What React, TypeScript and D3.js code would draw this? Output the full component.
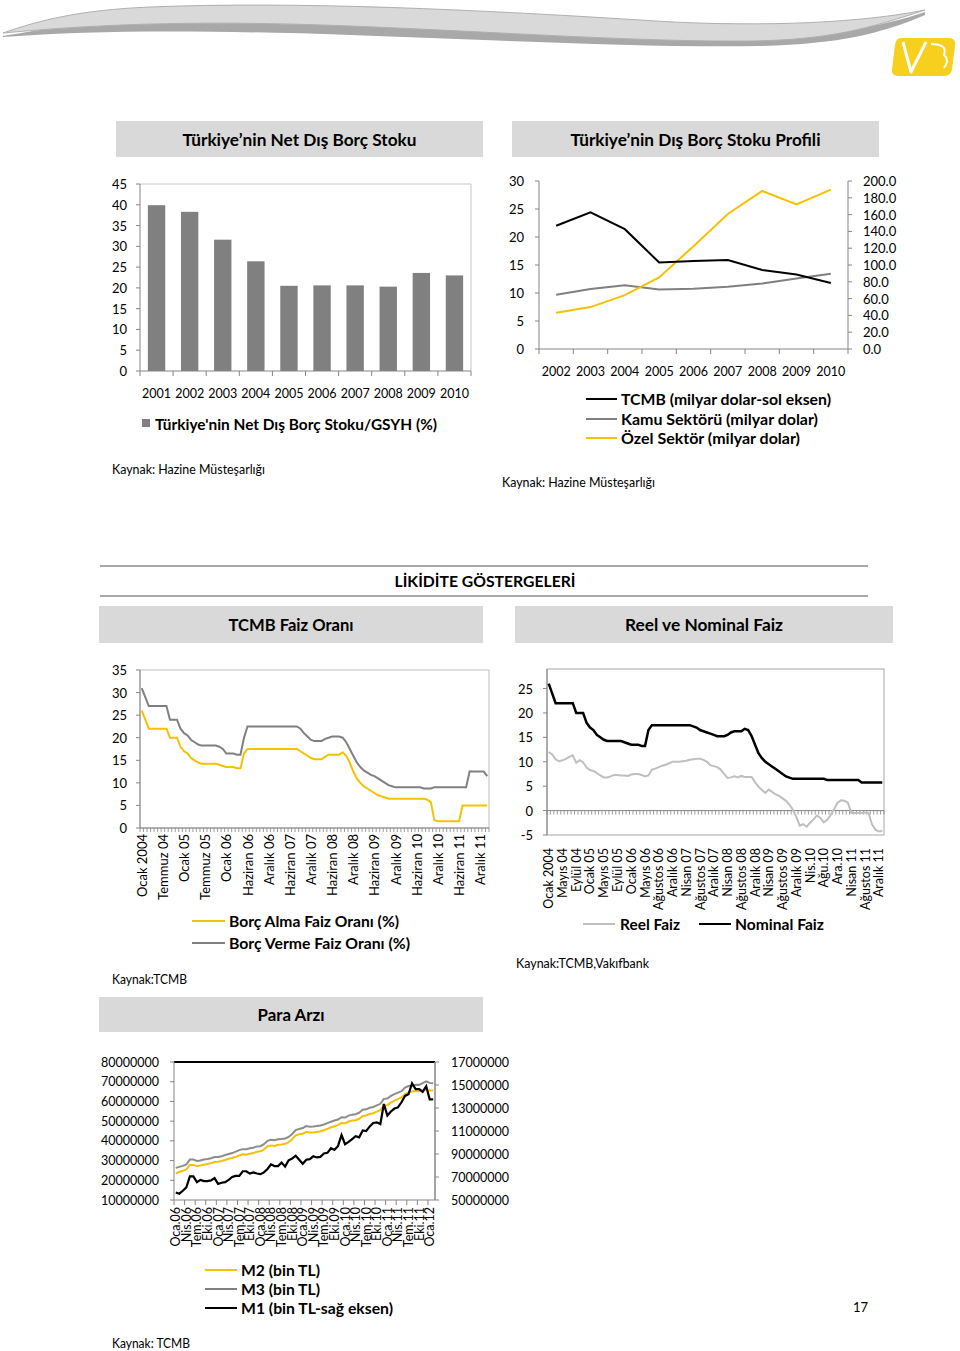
import React from "react";
import * as d3 from "d3";

const FONT = "Lato, 'Open Sans', 'DejaVu Sans', sans-serif";
const YELLOW = "#F5C100";
const GRAY = "#808080";
const LIGHT = "#BFBFBF";
const AXIS = "#868686";
const BOX = "#D9D9D9";

// ---- Chart 1: Net dış borç stoku / GSYH
const years1 = ["2001", "2002", "2003", "2004", "2005", "2006", "2007", "2008", "2009", "2010"];
const netDebtGdp = [39.9, 38.3, 31.6, 26.4, 20.5, 20.6, 20.6, 20.3, 23.6, 23.0];
const ticks1 = [0, 5, 10, 15, 20, 25, 30, 35, 40, 45];

// ---- Chart 2: Dış borç stoku profili
const years2 = ["2002", "2003", "2004", "2005", "2006", "2007", "2008", "2009", "2010"];
const tcmbDebt = [22.0, 24.4, 21.4, 15.45, 15.7, 15.9, 14.1, 13.3, 11.8];
const publicDebt = [64.5, 71.3, 76.0, 70.9, 71.7, 74.0, 78.0, 84.0, 89.5];
const privateDebt = [43.2, 49.9, 64.2, 85.2, 122.4, 160.8, 188.1, 172.0, 189.8];
const ticks2L = [0, 5, 10, 15, 20, 25, 30];
const ticks2R = [0, 20, 40, 60, 80, 100, 120, 140, 160, 180, 200];

// ---- Chart 3: TCMB faiz oranı
const faizLabels = ["Ocak 2004", "Temmuz 04", "Ocak 05", "Temmuz 05", "Ocak 06", "Haziran 06", "Aralık 06", "Haziran 07", "Aralık 07", "Haziran 08", "Aralık 08", "Haziran 09", "Aralık 09", "Haziran 10", "Aralık 10", "Haziran 11", "Aralık 11"];
const borcVerme = [
  31, 29, 27, 27, 27, 27, 27, 27,
  24, 24, 24,
  22, 21, 20.5, 19.5, 19, 18.5,
  18.25, 18.25, 18.25, 18.25, 18.25,
  18, 17.5,
  16.5, 16.5, 16.5, 16.25, 16.25,
  20,
  22.5, 22.5, 22.5, 22.5, 22.5, 22.5, 22.5, 22.5, 22.5, 22.5, 22.5, 22.5, 22.5, 22.5, 22.5,
  22, 21, 20.25, 19.5,
  19.25, 19.25, 19.25,
  19.75, 20, 20.25, 20.25, 20.25, 20, 19,
  17.5, 16, 14.5, 13.5, 12.75, 12.25, 11.75, 11.5, 11, 10.5, 10, 9.5, 9.25,
  9, 9, 9, 9, 9, 9, 9, 9,
  8.75, 8.75, 8.75,
  9, 9, 9, 9, 9, 9, 9, 9, 9, 9,
  12.5, 12.5, 12.5, 12.5, 12.5,
  11.5,
];
const borcAlma = [
  26, 24, 22, 22, 22, 22, 22, 22,
  20, 20, 20,
  18, 17, 16.5, 15.5, 15, 14.5,
  14.25, 14.25, 14.25, 14.25, 14.25,
  14, 13.75,
  13.5, 13.5, 13.5, 13.25, 13.25,
  16.5,
  17.5, 17.5, 17.5, 17.5, 17.5, 17.5, 17.5, 17.5, 17.5, 17.5, 17.5, 17.5, 17.5, 17.5, 17.5,
  17, 16.5, 16, 15.5,
  15.25, 15.25, 15.25,
  15.75, 16.25, 16.25, 16.25, 16.25, 16.75, 16,
  14.5, 12.5, 11, 10, 9.25, 8.75, 8.25, 7.75, 7.25, 7, 6.75, 6.5, 6.5,
  6.5, 6.5, 6.5, 6.5, 6.5, 6.5, 6.5, 6.5,
  6.5, 6.25, 5.75,
  1.75, 1.5, 1.5, 1.5, 1.5, 1.5, 1.5, 1.5,
  5, 5, 5, 5, 5, 5, 5, 5,
];
const ticks3 = [0, 5, 10, 15, 20, 25, 30, 35];

// ---- Chart 4: Reel ve nominal faiz
const reelLabels = ["Ocak 2004", "Mayıs 04", "Eylül 04", "Ocak 05", "Mayıs 05", "Eylül 05", "Ocak 06", "Mayıs 06", "Ağustos 06", "Aralık 06", "Nisan 07", "Ağustos 07", "Aralık 07", "Nisan 08", "Ağustos 08", "Aralık 08", "Nisan 09", "Ağustos 09", "Aralık 09", "Nis.10", "Ağu.10", "Ara.10", "Nisan 11", "Ağustos 11", "Aralık 11"];
const nominalFaiz = [
  26, 24, 22, 22, 22, 22, 22, 22,
  20, 20, 20,
  18, 17, 16.5, 15.5, 15, 14.5,
  14.25, 14.25, 14.25, 14.25, 14.25,
  14, 13.75,
  13.5, 13.5, 13.5, 13.25, 13.25,
  16.5,
  17.5, 17.5, 17.5, 17.5, 17.5, 17.5, 17.5, 17.5, 17.5, 17.5, 17.5, 17.5,
  17.25, 17, 16.5, 16.25, 16, 15.75, 15.5,
  15.25, 15.25, 15.25,
  15.5, 16,
  16.25, 16.25, 16.25,
  16.75, 16.5, 15.25, 13.5, 11.75, 10.75, 10, 9.5, 9, 8.5, 8, 7.5, 7, 6.75,
  6.5, 6.5, 6.5, 6.5, 6.5, 6.5, 6.5, 6.5, 6.5, 6.5,
  6.25, 6.25, 6.25, 6.25, 6.25, 6.25, 6.25, 6.25, 6.25, 6.25,
  5.75, 5.75, 5.75, 5.75, 5.75, 5.75, 5.75,
];
const reelFaiz = [
  12, 11.5, 10.5, 10.1, 10.3, 10.6, 11, 11.3, 9.8, 10.3,
  9.9, 8.8, 8.3, 8.1, 7.7, 7.2, 6.8, 6.8, 7, 7.3,
  7.3, 7.2, 7.2, 7.1, 7.4, 7.5, 7.5, 7.3, 7.0, 7.2,
  8.4, 8.6, 8.9, 9.2, 9.4, 9.7, 10, 10, 10, 10.1,
  10.2, 10.4, 10.5, 10.6, 10.6, 10.4, 10, 9.3, 9.1, 8.9,
  8.4, 7.5, 6.7, 6.8, 7, 6.8, 7.1, 6.9, 6.9, 6.9,
  5.8, 4.9, 4.2, 3.6, 4.3, 3.8, 3.3, 3, 2.5, 2,
  1.2, 0.2, -1.3, -3.1, -2.8, -3.3, -2.5, -1.8, -1, -1.5,
  -2.4, -1.9, -0.9, 0.3, 1.6, 2.1, 2, 1.6, -0.5, -0.5,
  -0.5, -0.5, -0.4, -0.5, -2.8, -3.9, -4.3, -4.2,
];
const ticks4 = [-5, 0, 5, 10, 15, 20, 25];

// ---- Chart 5: Para arzı (milyon bin TL)
const paraLabels = ["Oca.06", "Nis.06", "Tem.06", "Eki.06", "Oca.07", "Nis.07", "Tem.07", "Eki.07", "Oca.08", "Nis.08", "Tem.08", "Eki.08", "Oca.09", "Nis.09", "Tem.09", "Eki.09", "Oca.10", "Nis.10", "Tem.10", "Eki.10", "Oca.11", "Nis.11", "Tem.11", "Eki.11", "Oca.12"];
const m3 = [
  26.3, 26.8, 27.3, 28.0, 30.5, 30.5, 29.8, 30.0, 30.5, 30.8,
  31.2, 31.8, 31.8, 32.2, 32.8, 33.3, 33.8, 34.5, 35.3, 35.8,
  35.7, 36.2, 36.5, 37.2, 37.3, 38.3, 40.0, 40.5, 40.3, 40.8,
  41.0, 41.2, 42.0, 43.5, 45.5, 46.0, 46.5, 47.5, 47.2, 47.3,
  47.5, 47.8, 48.3, 49.0, 49.7, 50.3, 50.8, 52.0, 51.8, 52.8,
  53.3, 53.5, 54.3, 55.8, 56.0, 56.8, 57.2, 58.0, 58.8, 61.3,
  61.5, 62.8, 63.7, 64.5, 65.2, 67.0, 67.8, 68.0, 68.5, 68.4,
  69.3, 70.2, 69.4, 69.2,
];
const m2 = [
  23.6, 24.2, 24.8, 25.5, 27.8, 27.8, 27.2, 27.5, 27.9, 28.3,
  28.7, 29.3, 29.4, 29.8, 30.3, 30.9, 31.3, 31.9, 32.6, 33.2,
  33.0, 33.5, 33.8, 34.5, 34.7, 35.6, 37.3, 37.6, 37.4, 38.0,
  38.2, 38.5, 39.3, 40.8, 42.8, 43.3, 43.6, 44.6, 44.2, 44.3,
  44.5, 44.9, 45.4, 46.1, 46.9, 47.4, 48.0, 49.1, 48.8, 49.8,
  50.3, 50.5, 51.2, 52.6, 52.9, 53.6, 54.0, 54.8, 55.6, 57.8,
  58.1, 59.4, 60.4, 61.2, 62.0, 63.7, 64.6, 65.0, 65.3, 65.2,
  65.7, 66.0, 65.5, 65.6,
];
const m1 = [
  56.5, 55.5, 58, 61, 70.5, 70.5, 65.5, 67.5, 66.5, 66.5,
  67, 69, 64, 65, 65.5, 67.5, 70, 71, 71, 75,
  75, 73, 74, 73, 72.5, 74, 77, 81, 79.5, 79.5,
  82.5, 79, 84.5, 86, 88.5, 85, 81.5, 85, 85.5, 88,
  87, 87.5, 90.5, 91, 95, 93.5, 97, 106.5, 98.5, 100.5,
  103, 105.5, 104.5, 110.5, 110, 114, 117, 117.5, 116, 133.5,
  123.5, 127, 129.5, 130.5, 135, 140.5, 142, 151.5, 146.5, 146.5,
  144, 149, 137.5, 137.5,
];
const ticks5L = [10, 20, 30, 40, 50, 60, 70, 80];
const ticks5R = [50, 70, 90, 110, 130, 150, 170];
const ticks5RLabels = ["50000000", "70000000", "90000000", "11000000", "13000000", "15000000", "17000000"];

type TP = { x: number; y: number; w?: number; size?: number; bold?: boolean; anchor?: "start" | "middle" | "end"; children: React.ReactNode; fill?: string };
const T = ({ x, y, w, size = 13, bold = false, anchor = "start", children, fill = "#000" }: TP) => (
  <text
    x={x}
    y={y}
    fontSize={size}
    fontWeight={bold ? 700 : 400}
    textAnchor={anchor}
    dominantBaseline="central"
    fill={fill}
    {...(w ? { textLength: w, lengthAdjust: "spacingAndGlyphs" } : {})}
  >
    {children}
  </text>
);

const HeaderBox = ({ x, y, w, h, label, tw }: { x: number; y: number; w: number; h: number; label: string; tw: number }) => (
  <g>
    <rect x={x} y={y} width={w} height={h} fill={BOX} />
    <T x={x + w / 2} y={y + h / 2} anchor="middle" size={17} bold w={tw}>{label}</T>
  </g>
);

function Chart1() {
  const x0 = 140, x1 = 471, yT = 184, yB = 371;
  const x = d3.scaleBand<string>().domain(years1).range([x0, x1]).paddingInner(0.475).paddingOuter(0.2375);
  const y = d3.scaleLinear().domain([0, 45]).range([yB, yT]);
  const step = (x1 - x0) / years1.length;
  return (
    <g>
      <line x1={x0} x2={x1} y1={yT} y2={yT} stroke="#C8C8C8" />
      <line x1={x1} x2={x1} y1={yT} y2={yB} stroke="#C8C8C8" />
      {netDebtGdp.map((v, i) => (
        <rect key={i} x={x(years1[i])} y={y(v)} width={x.bandwidth()} height={yB - y(v)} fill={GRAY} />
      ))}
      <line x1={x0} x2={x0} y1={yT} y2={yB} stroke={AXIS} />
      <line x1={x0} x2={x1} y1={yB} y2={yB} stroke={AXIS} />
      {ticks1.map((t) => (
        <g key={t}>
          <line x1={x0 - 4} x2={x0} y1={y(t)} y2={y(t)} stroke={AXIS} />
          <T x={127} y={y(t)} anchor="end" size={13}>{t}</T>
        </g>
      ))}
      {d3.range(years1.length + 1).map((k) => (
        <line key={k} x1={x0 + k * step} x2={x0 + k * step} y1={yB} y2={yB + 5} stroke={AXIS} />
      ))}
      {years1.map((yr) => (
        <T key={yr} x={(x(yr) as number) + x.bandwidth() / 2} y={393} anchor="middle" size={12.5}>{yr}</T>
      ))}
      <rect x={142} y={419} width={8} height={8} fill={GRAY} />
      <T x={155} y={424} size={15} bold w={282}>Türkiye'nin Net Dış Borç Stoku/GSYH (%)</T>
    </g>
  );
}

function Chart2() {
  const x0 = 539, x1 = 848, yT = 181, yB = 349;
  const x = d3.scaleBand<string>().domain(years2).range([x0, x1]);
  const yL = d3.scaleLinear().domain([0, 30]).range([yB, yT]);
  const yR = d3.scaleLinear().domain([0, 200]).range([yB, yT]);
  const cx = (i: number) => (x(years2[i]) as number) + x.bandwidth() / 2;
  const lineL = d3.line<number>().x((_, i) => cx(i)).y((d) => yL(d));
  const lineR = d3.line<number>().x((_, i) => cx(i)).y((d) => yR(d));
  return (
    <g>
      <line x1={x0} x2={x0} y1={yT} y2={yB} stroke={AXIS} />
      <line x1={x1} x2={x1} y1={yT} y2={yB} stroke={AXIS} />
      <line x1={x0} x2={x1} y1={yB} y2={yB} stroke={AXIS} />
      {ticks2L.map((t) => (
        <g key={t}>
          <line x1={x0 - 4} x2={x0} y1={yL(t)} y2={yL(t)} stroke={AXIS} />
          <T x={524} y={yL(t)} anchor="end" size={13}>{t}</T>
        </g>
      ))}
      {ticks2R.map((t) => (
        <g key={t}>
          <line x1={x1} x2={x1 + 4} y1={yR(t)} y2={yR(t)} stroke={AXIS} />
          <T x={863} y={yR(t)} size={13}>{d3.format(".1f")(t)}</T>
        </g>
      ))}
      {d3.range(years2.length + 1).map((k) => (
        <line key={k} x1={x0 + k * x.step()} x2={x0 + k * x.step()} y1={yB} y2={yB + 5} stroke={AXIS} />
      ))}
      {years2.map((yr, i) => (
        <T key={yr} x={cx(i)} y={371} anchor="middle" size={12.5}>{yr}</T>
      ))}
      <path d={lineR(publicDebt) || ""} fill="none" stroke={GRAY} strokeWidth={2} />
      <path d={lineR(privateDebt) || ""} fill="none" stroke={YELLOW} strokeWidth={2} />
      <path d={lineL(tcmbDebt) || ""} fill="none" stroke="#000" strokeWidth={2} />
      <line x1={586} x2={617} y1={399} y2={399} stroke="#000" strokeWidth={2} />
      <T x={621} y={399} size={15} bold w={210}>TCMB (milyar dolar-sol eksen)</T>
      <line x1={586} x2={617} y1={419} y2={419} stroke={GRAY} strokeWidth={2} />
      <T x={621} y={419} size={15} bold w={197}>Kamu Sektörü (milyar dolar)</T>
      <line x1={586} x2={617} y1={438} y2={438} stroke={YELLOW} strokeWidth={2} />
      <T x={621} y={438} size={15} bold w={179}>Özel Sektör (milyar dolar)</T>
    </g>
  );
}

function Chart3() {
  const x0 = 140, x1 = 489, yT = 670, yB = 828;
  const n = borcAlma.length;
  const x = d3.scaleBand<number>().domain(d3.range(n)).range([x0, x1]);
  const y = d3.scaleLinear().domain([0, 35]).range([yB, yT]);
  const cx = (i: number) => (x(i) as number) + x.bandwidth() / 2;
  const line = d3.line<number>().x((_, i) => cx(i)).y((d) => y(d));
  return (
    <g>
      <rect x={x0} y={yT} width={x1 - x0} height={yB - yT} fill="none" stroke="#BDBDBD" />
      <line x1={x0} x2={x0} y1={yT} y2={yB} stroke={AXIS} />
      <line x1={x0} x2={x1} y1={yB} y2={yB} stroke={AXIS} />
      {d3.range(n + 1).map((k) => (
        <line key={k} x1={x0 + k * x.step()} x2={x0 + k * x.step()} y1={yB} y2={yB + 4} stroke={AXIS} strokeWidth={0.8} />
      ))}
      {ticks3.map((t) => (
        <g key={t}>
          <line x1={x0 - 4} x2={x0} y1={y(t)} y2={y(t)} stroke={AXIS} />
          <T x={127} y={y(t)} anchor="end" size={13}>{t}</T>
        </g>
      ))}
      {faizLabels.map((lb, k) => (
        <text key={lb} transform={`translate(${cx(k * 6)},${834}) rotate(-90)`} fontSize={13} textAnchor="end" dominantBaseline="central">{lb}</text>
      ))}
      <path d={line(borcVerme) || ""} fill="none" stroke={GRAY} strokeWidth={2} />
      <path d={line(borcAlma) || ""} fill="none" stroke={YELLOW} strokeWidth={2} />
      <line x1={192} x2={225} y1={921} y2={921} stroke={YELLOW} strokeWidth={2} />
      <T x={229} y={921} size={15} bold w={170}>Borç Alma Faiz Oranı (%)</T>
      <line x1={192} x2={225} y1={943} y2={943} stroke={GRAY} strokeWidth={2} />
      <T x={229} y={943} size={15} bold w={181}>Borç Verme Faiz Oranı (%)</T>
    </g>
  );
}

function Chart4() {
  const x0 = 547, x1 = 884, yT = 669, yB = 835;
  const n = nominalFaiz.length;
  const x = d3.scaleBand<number>().domain(d3.range(n)).range([x0, x1]);
  const y = d3.scaleLinear().domain([-5, 29]).range([yB, yT]);
  const cx = (i: number) => (x(i) as number) + x.bandwidth() / 2;
  const line = d3.line<number>().x((_, i) => cx(i)).y((d) => y(d));
  return (
    <g>
      <rect x={x0} y={yT} width={x1 - x0} height={yB - yT} fill="none" stroke="#A6A6A6" />
      <line x1={x0} x2={x0} y1={yT} y2={yB} stroke={AXIS} />
      <line x1={x0} x2={x1} y1={y(0)} y2={y(0)} stroke={AXIS} />
      {d3.range(n + 1).map((k) => (
        <line key={k} x1={x0 + k * x.step()} x2={x0 + k * x.step()} y1={y(0)} y2={y(0) + 4} stroke={AXIS} strokeWidth={0.8} />
      ))}
      {ticks4.map((t) => (
        <g key={t}>
          <line x1={x0 - 4} x2={x0} y1={y(t)} y2={y(t)} stroke={AXIS} />
          <T x={533} y={y(t)} anchor="end" size={13}>{t}</T>
        </g>
      ))}
      {reelLabels.map((lb, k) => (
        <text key={lb} transform={`translate(${cx(k * 4)},${848}) rotate(-90)`} fontSize={12.5} textAnchor="end" dominantBaseline="central">{lb}</text>
      ))}
      <path d={line(reelFaiz) || ""} fill="none" stroke={LIGHT} strokeWidth={2} />
      <path d={line(nominalFaiz) || ""} fill="none" stroke="#000" strokeWidth={2.5} />
      <line x1={583} x2={615} y1={924} y2={924} stroke={LIGHT} strokeWidth={2} />
      <T x={620} y={924} size={15} bold w={60}>Reel Faiz</T>
      <line x1={699} x2={731} y1={924} y2={924} stroke="#000" strokeWidth={2} />
      <T x={735} y={924} size={15} bold w={89}>Nominal Faiz</T>
    </g>
  );
}

function Chart5() {
  const x0 = 174, x1 = 435, yT = 1062, yB = 1200;
  const n = m1.length;
  const x = d3.scaleBand<number>().domain(d3.range(n)).range([x0, x1]);
  const yL = d3.scaleLinear().domain([10, 80]).range([yB, yT]);
  const yR = d3.scaleLinear().domain([50, 170]).range([yB, yT]);
  const cx = (i: number) => (x(i) as number) + x.bandwidth() / 2;
  const lineL = d3.line<number>().x((_, i) => cx(i)).y((d) => yL(d));
  const lineR = d3.line<number>().x((_, i) => cx(i)).y((d) => yR(d));
  return (
    <g>
      <line x1={x0} x2={x1} y1={yT} y2={yT} stroke="#000" strokeWidth={2} />
      <line x1={x0} x2={x0} y1={yT} y2={yB} stroke={AXIS} />
      <line x1={x1} x2={x1} y1={yT} y2={yB} stroke={AXIS} strokeWidth={1.5} />
      <line x1={x0} x2={x1} y1={yB} y2={yB} stroke={AXIS} />
      {d3.range(0, n + 1, 3).map((k) => (
        <line key={k} x1={x0 + k * x.step()} x2={x0 + k * x.step()} y1={yB} y2={yB + 5} stroke={AXIS} />
      ))}
      {ticks5L.map((t) => (
        <g key={t}>
          <line x1={x0 - 4} x2={x0} y1={yL(t)} y2={yL(t)} stroke={AXIS} />
          <T x={159} y={yL(t)} anchor="end" size={12.5}>{d3.format("d")(t * 1e6)}</T>
        </g>
      ))}
      {ticks5R.map((t, i) => (
        <g key={t}>
          <line x1={x1} x2={x1 + 4} y1={yR(t)} y2={yR(t)} stroke={AXIS} />
          <T x={451} y={yR(t)} size={12.5}>{ticks5RLabels[i]}</T>
        </g>
      ))}
      {paraLabels.map((lb, k) => (
        <text key={lb} transform={`translate(${cx(k * 3)},${1207}) rotate(-90)`} fontSize={12.5} textAnchor="end" dominantBaseline="central">{lb}</text>
      ))}
      <path d={lineL(m3) || ""} fill="none" stroke="#8C8C8C" strokeWidth={2} />
      <path d={lineL(m2) || ""} fill="none" stroke={YELLOW} strokeWidth={2} />
      <path d={lineR(m1) || ""} fill="none" stroke="#000" strokeWidth={2.2} />
      <line x1={205} x2={237} y1={1270} y2={1270} stroke={YELLOW} strokeWidth={2} />
      <T x={241} y={1270} size={15} bold w={79}>M2 (bin TL)</T>
      <line x1={205} x2={237} y1={1289} y2={1289} stroke={GRAY} strokeWidth={2} />
      <T x={241} y={1289} size={15} bold w={79}>M3 (bin TL)</T>
      <line x1={205} x2={237} y1={1308} y2={1308} stroke="#000" strokeWidth={2} />
      <T x={241} y={1308} size={15} bold w={152}>M1 (bin TL-sağ eksen)</T>
    </g>
  );
}

export default function App() {
  return (
    <svg width={960} height={1351} viewBox="0 0 960 1351" style={{ position: "absolute", left: 0, top: 0, background: "#fff" }} fontFamily={FONT}>
      <rect x={0} y={0} width={960} height={1351} fill="#fff" />
      {/* header ribbon */}
      <path
        d="M3,36 C40,30 80,22 150,20 C300,16 480,26 640,36 C740,42 850,38 925,12 L925,15 C880,34 840,44 760,46 C650,48 500,40 350,35 C200,30 100,30 3,37 Z"
        fill="#A8A8A8"
      />
      <path
        d="M3,33 C40,20 80,10 150,7 C300,1 480,10 640,20 C740,27 850,25 925,10 C870,28 830,40 750,41 C640,42 500,32 350,26 C200,20 100,24 3,33 Z"
        fill="#D9D9D9"
        stroke="#B0B0B0"
        strokeWidth={1}
      />
      {/* logo */}
      <path d="M901,38 L949,38 Q956,38 955,46 L952,69 Q951,76 944,76 L898,76 Q891,76 892,69 L895,45 Q896,38 901,38 Z" fill="#F7CF1D" />
      <path d="M903,42 L911,72 L926,42" fill="none" stroke="#fff" strokeWidth={3} strokeLinejoin="round" />
      <path d="M931,44 Q948,44 944,55 Q950,60 944,68" fill="none" stroke="#fff" strokeWidth={2} />

      <HeaderBox x={116} y={121} w={367} h={36} label="Türkiye’nin Net Dış Borç Stoku" tw={234} />
      <HeaderBox x={512} y={121} w={367} h={36} label="Türkiye’nin Dış Borç Stoku Profili" tw={250} />

      <Chart1 />
      <Chart2 />
      <T x={112} y={469} size={12.5} w={153}>Kaynak: Hazine Müsteşarlığı</T>
      <T x={502} y={482} size={12.5} w={153}>Kaynak: Hazine Müsteşarlığı</T>

      <line x1={100} x2={868} y1={566} y2={566} stroke="#555" strokeWidth={1.2} />
      <T x={485} y={580} anchor="middle" size={16} bold w={181}>LİKİDİTE GÖSTERGELERİ</T>
      <line x1={100} x2={868} y1={596} y2={596} stroke="#555" strokeWidth={1.2} />

      <HeaderBox x={99} y={606} w={384} h={37} label="TCMB Faiz Oranı" tw={125} />
      <HeaderBox x={515} y={606} w={378} h={37} label="Reel ve Nominal Faiz" tw={158} />

      <Chart3 />
      <Chart4 />
      <T x={112} y={979} size={12.5} w={75}>Kaynak:TCMB</T>
      <T x={516} y={963} size={12.5} w={133}>Kaynak:TCMB,Vakıfbank</T>

      <HeaderBox x={99} y={997} w={384} h={35} label="Para Arzı" tw={67} />
      <Chart5 />
      <T x={112} y={1343} size={12.5} w={78}>Kaynak: TCMB</T>
      <T x={853} y={1307} size={13}>17</T>
    </svg>
  );
}
